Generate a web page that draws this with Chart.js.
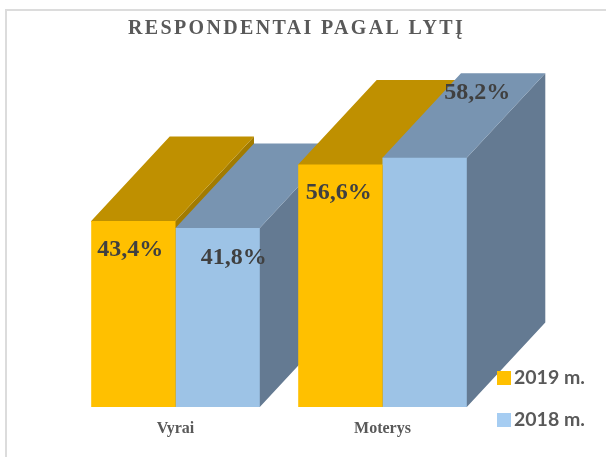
<!DOCTYPE html>
<html>
<head>
<meta charset="utf-8">
<style>
    html, body { margin: 0; padding: 0; background: #fff; overflow: hidden; width: 606px; height: 457px; }
    #frame { position: absolute; left: 5px; top: 9px; width: 700px; height: 600px; border: 2px solid #dcdcdc; }
    #chart { position: absolute; left: 0; top: 0; }
</style>
<script src="https://cdn.jsdelivr.net/npm/chart.js@4"></script>
</head>
<body>
<div id="frame"></div>
<canvas id="chart" width="606" height="457"></canvas>
<script>
const categories = ["Vyrai", "Moterys"];
const values2019 = [43.4, 56.6];
const values2018 = [41.8, 58.2];
const seriesNames = ["2019 m.", "2018 m."];
const chartTitle = "RESPONDENTAI PAGAL LYTĮ";

const frontColors = ["#FFC000", "#9DC3E6"];
const topColors = ["#BF9000", "#7894B1"];
const sideColors = ["#A27B00", "#647A92"];
const legendColors = ["#FFC000", "#A6CDF2"];

// how far the box goes back, Excel style oblique view
const depthX = 78.5;
const depthY = 84.5;

const formatValue = (v) => v.toFixed(1).replace(".", ",") + "%";

// side and top faces, painted left to right so nearer boxes cover farther ones
const boxFaces = {
    id: "boxFaces",
    beforeDatasetsDraw(chart) {
        const ctx = chart.ctx;
        const face = (points, color) => {
            ctx.fillStyle = color;
            ctx.beginPath();
            points.forEach((p, i) => (i ? ctx.lineTo(p[0], p[1]) : ctx.moveTo(p[0], p[1])));
            ctx.closePath();
            ctx.fill();
        };
        categories.forEach((c, i) => {
            chart.data.datasets.forEach((ds, d) => {
                const bar = chart.getDatasetMeta(d).data[i];
                const left = bar.x - bar.width / 2;
                const right = bar.x + bar.width / 2;
                face([[right - 1, bar.y], [right, bar.y], [right + depthX, bar.y - depthY], [right + depthX, bar.base - depthY], [right, bar.base], [right - 1, bar.base]], sideColors[d]);
                // the extra pixel below goes under the front face, avoids a seam
                face([[left, bar.y + 1], [left, bar.y], [left + depthX, bar.y - depthY], [right + depthX, bar.y - depthY], [right, bar.y], [right, bar.y + 1]], topColors[d]);
            });
        });
    }
};

// value labels were hand placed in the original, so each one has its own nudge
const labelNudge = [
    [[-3, 28.5], [-1.5, 28]],
    [[16, 29.5], [52.5, -64.5]]
];

const overlays = {
    id: "overlays",
    afterDatasetsDraw(chart) {
        const ctx = chart.ctx;
        ctx.save();
        ctx.textBaseline = "middle";

        // value labels
        ctx.textAlign = "center";
        ctx.fillStyle = "#404040";
        ctx.font = "bold 24px 'Liberation Serif'";
        chart.data.datasets.forEach((ds, d) => {
            chart.getDatasetMeta(d).data.forEach((bar, i) => {
                ctx.fillText(formatValue(ds.data[i]), bar.x + labelNudge[d][i][0], bar.y + labelNudge[d][i][1]);
            });
        });

        // title
        ctx.fillStyle = "#595959";
        ctx.font = "bold 20px 'Liberation Serif'";
        ctx.letterSpacing = "2.35px";
        ctx.fillText(chartTitle, 296.5, 28.5);
        ctx.letterSpacing = "0px";

        // legend
        ctx.textAlign = "left";
        ctx.font = "bold 19.5px Lato";
        seriesNames.forEach((name, i) => {
            const y = 378 + i * 42;
            ctx.fillStyle = legendColors[i];
            ctx.fillRect(497, y - 7, 14, 14);
            ctx.fillStyle = "#595959";
            ctx.fillText(name, 514, y);
        });
        ctx.restore();
    }
};

new Chart(document.getElementById("chart"), {
    type: "bar",
    data: {
        labels: categories,
        datasets: [
            { label: seriesNames[0], data: values2019, backgroundColor: frontColors[0] },
            { label: seriesNames[1], data: values2018, backgroundColor: frontColors[1] }
        ]
    },
    options: {
        responsive: false,
        animation: false,
        layout: { padding: { left: 72, right: 120, top: 0, bottom: 20 } },
        datasets: { bar: { categoryPercentage: 0.8145, barPercentage: 1 } },
        plugins: {
            legend: { display: false },
            title: { display: false },
            tooltip: { enabled: false }
        },
        scales: {
            x: {
                grid: { display: false },
                border: { display: false },
                afterFit: (scale) => { scale.height = 30; },
                ticks: {
                    padding: 4,
                    color: "#595959",
                    font: { family: "'Liberation Serif'", size: 16, weight: "bold" }
                }
            },
            y: { display: false, min: 0, max: 95 }
        }
    },
    plugins: [boxFaces, overlays]
});
</script>
</body>
</html>
